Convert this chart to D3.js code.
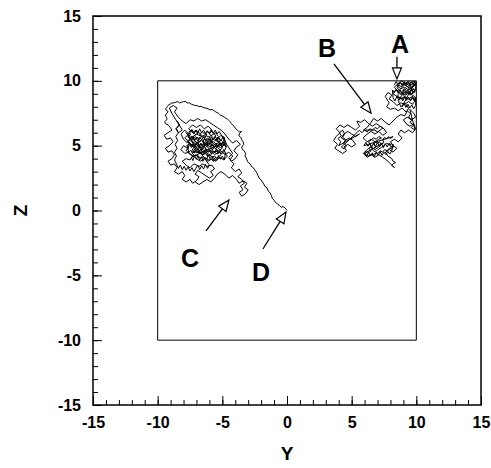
<!DOCTYPE html>
<html>
<head>
<meta charset="utf-8">
<script src="https://cdn.jsdelivr.net/npm/d3@7"></script>
<style>
  body { margin: 0; background: #fff; }
  text { font-family: "Liberation Sans", Arial, sans-serif; font-weight: bold; }
</style>
</head>
<body>
<svg width="491" height="468"></svg>
<script>
// axis setup
var majorTicks = [-15, -10, -5, 0, 5, 10, 15];
var minorTicks = d3.range(-15, 16, 1);
var boxCorners = [[-10, -10], [10, -10], [10, 10], [-10, 10]];

// trajectory, [Y, Z]
// walk from D (origin) up into the left cloud
var leftTail = [
  [0,0],[-0.15,0.2],[-0.3,0.3],[-0.45,0.25],[-0.6,0.4],[-0.75,0.5],[-0.9,0.65],[-1.0,0.8],[-1.15,0.95],
  [-1.2,1.15],[-1.3,1.35],[-1.45,1.5],[-1.55,1.75],[-1.7,1.85],[-1.8,2.05],[-1.9,2.2],[-2.0,2.35],
  [-2.15,2.5],[-2.25,2.7],[-2.3,2.85],[-2.4,3.0],[-2.5,3.15],[-2.6,3.3],[-2.75,3.4],[-2.85,3.6],
  [-3.0,3.7],[-3.1,3.9],[-3.15,4.05],[-3.25,4.2],[-3.2,4.4],[-3.3,4.6],[-3.45,4.7],[-3.5,4.9],
  [-3.35,5.1],[-3.4,5.3],[-3.5,5.45],[-3.55,5.6],[-3.7,5.75],[-3.7,5.9],[-3.5,6.1],[-3.65,6.05],
  [-3.85,6.2],[-4.0,6.35],[-4.1,6.5],[-4.2,6.6],[-4.3,6.7],[-4.4,6.85],[-4.5,6.95],[-4.6,7.05],
  [-4.7,7.1],[-4.85,7.2],[-5.0,7.3],[-5.15,7.35],[-5.3,7.5],[-5.4,7.55],[-5.5,7.6],[-5.65,7.7],
  [-5.8,7.8],[-5.95,7.75],[-6.1,7.85],[-6.3,7.9],[-6.5,7.95],[-6.65,8.05],[-6.8,8.0],[-6.95,8.1],
  [-7.1,8.1],[-7.25,8.15],[-7.4,8.2],[-7.55,8.3],[-7.7,8.3],[-7.85,8.4],[-8.0,8.4],[-8.15,8.35],
  [-8.3,8.3],[-8.45,8.4],[-8.6,8.35],[-8.75,8.3],[-8.9,8.3],[-9.05,8.2],[-9.2,8.1],[-9.3,7.95],
  [-9.4,7.8],[-9.25,7.7],[-9.2,7.6],[-9.35,7.45],[-9.4,7.3],[-9.3,7.15],[-9.3,7.0],[-9.45,6.85],
  [-9.4,6.7],[-9.2,6.6],[-9.1,6.5],[-9.0,6.35],[-8.9,6.2]
];

var leftCloud = [
  [-9.2,6.0],[-9.5,5.8],[-9.3,5.5],[-9.0,5.6],[-8.8,5.3],[-9.1,5.0],
  [-9.4,4.8],[-9.2,4.5],[-8.9,4.6],[-8.7,4.3],[-8.9,4.0],[-9.2,3.8],[-9.0,3.5],[-8.7,3.6],[-8.5,3.3],
  [-8.7,3.0],[-8.4,2.8],[-8.1,3.0],[-7.9,2.7],[-8.1,2.4],[-7.8,2.2],[-7.5,2.4],[-7.3,2.1],[-7.0,2.3],
  [-6.8,2.6],[-7.1,2.8],[-6.9,3.1],[-6.6,2.9],[-6.3,2.7],[-6.0,2.5],[-5.7,2.7],[-5.9,3.0],[-5.6,3.2],
  [-5.8,3.5],[-6.2,3.4],[-6.5,3.6],[-6.8,3.4],[-7.2,3.6],[-7.5,3.3],[-7.8,3.5],[-8.1,3.8],[-7.8,4.0],
  [-7.5,3.9],[-7.3,4.2],[-7.6,4.5],[-7.9,4.4],[-8.2,4.7],[-8.0,5.0],[-7.7,4.8],[-7.5,5.1],[-7.2,5.0],
  [-7.0,4.6],[-6.8,4.75],[-6.9,4.95],[-6.7,5.1],[-6.55,4.95],[-6.4,5.15],[-6.55,5.35],[-6.35,5.5],
  [-6.2,5.35],[-6.05,5.55],[-5.9,5.4],[-6.0,5.2],[-5.8,5.05],[-5.95,4.85],[-5.75,4.7],[-5.6,4.85],
  [-5.45,4.7],[-5.6,4.5],[-5.4,4.35],[-5.25,4.5],[-5.1,4.35],[-5.25,4.15],[-5.45,4.05],[-5.6,4.2],
  [-5.8,4.1],[-5.95,4.3],[-6.15,4.2],[-6.3,4.4],[-6.5,4.3],[-6.65,4.5],[-6.85,4.4],[-7.0,4.55],
  [-7.2,4.45],[-7.35,4.65],[-7.2,4.85],[-7.4,5.0],[-7.25,5.2],[-7.45,5.35],[-7.3,5.55],[-7.1,5.45],
  [-6.95,5.65],[-6.75,5.5],[-6.6,5.7],[-6.75,5.9],[-6.55,6.05],[-6.35,5.9],[-6.2,6.1],[-6.0,5.95],
  [-5.85,6.1],[-5.65,5.95],[-5.5,5.75],[-5.65,5.55],[-5.45,5.4],[-5.3,5.6],[-5.15,5.45],[-5.3,5.25],
  [-5.1,5.1],[-4.95,5.3],[-4.8,5.15],[-4.95,4.95],[-5.15,4.85],[-5.3,4.95],[-5.45,5.1],[-5.6,5.25],
  [-5.8,5.35],[-6.0,5.65],[-6.2,5.75],[-6.45,5.65],[-6.6,5.45],[-6.8,5.3],[-7.0,5.15],[-7.15,5.0],
  [-7.0,4.8],[-6.8,4.6],[-6.6,4.7],[-6.4,4.85],[-6.2,4.7],[-6.1,4.5],[-5.9,4.6],[-6.05,4.8],
  [-6.25,5.0],[-6.1,5.2],[-6.3,5.3],[-6.5,5.2],[-6.35,5.0],[-6.55,4.8],[-6.75,4.95],[-6.9,5.2],
  [-7.1,5.3],[-7.25,5.7],[-7.05,5.85],[-6.85,6.0],[-7.0,6.15],[-7.2,6.05],[-7.4,6.2],[-7.6,6.05],
  [-7.45,5.85],[-7.65,5.7],[-7.5,5.5],[-7.7,5.35],[-7.55,5.15],[-7.75,5.0],[-7.6,4.8],[-7.8,4.65],
  [-7.65,4.45],[-7.45,4.3],[-7.25,4.2],[-7.05,4.3],[-6.85,4.15],[-6.65,4.05],[-6.45,4.15],[-6.25,4.0],
  [-6.05,3.9],[-5.85,3.95],[-5.7,3.8],[-5.5,3.9],
  [-7.4,5.4],[-7.1,5.7],[-6.8,5.5],[-6.9,5.1],[-6.6,4.8],[-6.9,4.5],[-6.5,4.3],[-6.2,4.6],[-6.4,5.0],
  [-6.1,5.3],[-6.4,5.6],[-6.7,5.9],[-7.0,6.2],[-7.3,6.0],[-7.6,6.3],[-7.3,6.6],[-7.0,6.4],[-6.7,6.6],
  [-6.4,6.3],[-6.1,6.5],[-5.8,6.2],[-6.0,5.9],[-5.7,5.6],[-5.9,5.2],[-5.6,4.9],[-5.9,4.6],[-5.6,4.3],
  [-5.3,4.5],[-5.5,4.8],[-5.2,5.1],[-5.4,5.5],[-5.1,5.8],[-4.8,5.6],[-5.0,5.2],[-4.7,4.9],[-4.9,4.5],
  [-4.6,4.2],[-4.9,3.9],[-5.2,4.1],[-5.5,3.8],[-5.8,4.0],[-6.1,3.8],[-6.4,4.0],[-6.7,3.8],[-7.0,4.0],
  [-7.3,4.4],[-7.0,4.7],[-7.3,5.0],[-7.6,5.3],[-7.9,5.6],[-7.6,5.9],[-7.9,6.2],[-8.2,5.9],[-8.0,5.5],
  [-7.7,5.2],[-7.4,5.6],[-7.0,5.9],[-6.6,5.7],[-6.2,5.9],[-6.5,5.3],[-6.1,5.0],[-5.8,5.3],[-6.0,5.7],
  [-5.5,6.0],[-5.3,5.7],[-5.6,5.4],[-5.2,5.3],[-5.0,4.8],[-5.3,4.6],[-5.7,4.5],[-6.0,4.2],[-6.3,4.4],
  [-6.6,4.6],[-6.8,4.9],[-6.5,5.1],[-6.2,5.2],[-6.0,4.9],[-5.7,5.0],[-5.4,5.2],[-5.1,5.0],[-4.8,5.3],
  // tight scribble through the dark core
  [-7.4,4.1],[-7.28,3.85],[-7.15,4.2],[-7.0,3.95],[-6.9,4.25],[-6.75,3.9],[-6.6,4.15],[-6.5,3.8],
  [-6.35,4.1],[-6.2,3.95],[-6.1,4.3],[-5.95,4.0],[-5.8,4.2],[-5.7,3.85],[-5.55,4.1],[-5.4,3.9],
  [-5.3,4.25],[-5.15,3.95],[-5.0,4.2],[-4.85,3.9],
  [-4.75,4.45],[-4.9,4.7],[-5.05,4.35],[-5.2,4.6],[-5.3,4.4],[-5.45,4.75],[-5.6,4.45],[-5.75,4.65],
  [-5.85,4.35],[-6.0,4.7],[-6.15,4.5],[-6.3,4.75],[-6.45,4.4],[-6.6,4.65],[-6.7,4.35],[-6.85,4.6],
  [-7.0,4.45],[-7.15,4.75],[-7.3,4.4],[-7.45,4.65],[-7.6,4.5],
  [-7.7,4.95],[-7.55,5.2],[-7.4,4.85],[-7.25,5.15],[-7.1,4.9],[-6.95,5.25],[-6.8,4.95],[-6.65,5.2],
  [-6.5,4.85],[-6.35,5.1],[-6.2,4.9],[-6.05,5.25],[-5.9,4.95],[-5.75,5.15],[-5.6,4.85],[-5.45,5.1],
  [-5.3,4.9],[-5.15,5.2],[-5.0,4.95],[-4.85,5.15],[-4.7,4.9],
  [-4.8,5.45],[-4.95,5.7],[-5.1,5.35],[-5.25,5.6],[-5.4,5.4],[-5.55,5.75],[-5.7,5.45],[-5.85,5.65],
  [-6.0,5.35],[-6.15,5.6],[-6.3,5.4],[-6.45,5.7],[-6.6,5.45],[-6.75,5.65],[-6.9,5.35],[-7.05,5.6],
  [-7.2,5.45],[-7.35,5.75],[-7.5,5.5],[-7.65,5.7],
  [-7.5,6.0],[-7.35,6.25],[-7.2,5.9],[-7.05,6.15],[-6.9,5.95],[-6.75,6.3],[-6.6,6.0],[-6.45,6.2],
  [-6.3,5.9],[-6.15,6.15],[-6.0,5.95],[-5.85,6.25],[-5.7,5.95],[-5.55,6.2],[-5.4,5.9],[-5.25,6.1],
  [-4.6,5.0],[-4.4,4.7],[-4.2,4.4],[-4.5,4.1],[-4.3,3.8],[-4.0,4.0],[-3.8,4.3],[-4.1,4.6],[-3.9,4.9],
  [-3.6,5.1],[-3.9,5.4],[-4.2,5.2],[-4.5,5.5],[-4.8,5.9],[-5.1,6.2],[-5.4,6.4],[-5.7,6.6],[-6.0,6.8],
  [-6.3,7.0],[-6.6,6.9],[-6.9,7.1],[-7.2,6.9],[-7.5,7.0],[-7.8,6.7],[-8.1,6.9],[-8.4,7.2],[-8.7,7.6],
  [-8.5,7.9],[-8.8,8.1],[-9.1,7.9],[-8.9,7.5],[-8.6,7.0],[-8.3,6.6],[-8.6,6.3],[-8.4,6.0],[-8.1,6.2],
  [-8.5,6.9],[-8.35,6.6],[-8.55,6.3],[-8.4,6.0],[-8.6,5.7],[-8.45,5.4],[-8.65,5.1],[-8.5,4.8],
  [-8.7,4.5],[-8.55,4.2],[-8.7,3.9],[-8.55,3.6],[-8.4,3.25],[-8.25,3.5],[-8.1,3.15],[-7.95,3.4],
  [-7.8,3.1],[-7.65,3.35],[-7.5,3.05],[-7.35,3.3],[-7.2,3.0],[-7.05,3.25],[-6.9,3.5],[-6.75,3.15],
  [-6.6,3.45],[-6.45,3.2],[-6.3,3.55],[-6.15,3.25],[-6.0,3.5],
  [-7.8,6.0],[-7.5,5.7],[-7.2,5.4],[-6.9,5.2],[-6.6,5.4],[-6.3,5.2],[-6.0,5.4],[-5.7,5.2],[-5.4,4.9],
  [-5.1,4.6],[-4.8,4.3],[-4.5,4.5],[-4.2,4.2],[-4.4,3.9],[-4.1,3.6],[-4.3,3.3],[-4.0,3.0],[-3.7,3.2],
  [-3.5,2.9],[-3.8,2.6],[-3.5,2.4],[-3.3,2.1],[-3.6,1.9],[-3.4,1.6],[-3.7,1.4],[-3.5,1.1],[-3.2,1.3],
  [-3.0,1.6],[-3.3,1.8],[-3.1,2.1],[-3.4,2.3],[-3.7,2.1],[-3.9,2.4],[-4.2,2.7],[-4.5,2.5],[-4.8,2.8],
  [-5.1,3.0],[-5.4,2.8],[-5.6,2.5],[-5.9,2.2],[-6.2,2.4],[-6.5,2.2],[-6.8,2.0],[-7.1,2.2]
];

// right cloud, touching the Y = 10 and Z = 10 walls
var rightCloud = [
  [8.3,9.7],[8.45,9.95],[8.6,9.6],[8.75,9.9],[8.9,9.65],[9.05,9.95],[9.2,9.6],[9.35,9.9],[9.5,9.65],
  [9.65,9.95],[9.8,9.6],[9.95,9.85],
  [9.95,9.3],[9.8,9.05],[9.65,9.35],[9.5,9.0],[9.35,9.3],[9.2,9.05],[9.05,9.35],[8.9,9.0],[8.75,9.3],
  [8.6,9.05],[8.45,9.35],[8.3,9.1],[8.15,9.3],
  [8.2,8.7],[8.35,8.45],[8.5,8.8],[8.65,8.5],[8.8,8.75],[8.95,8.45],[9.1,8.8],[9.25,8.5],[9.4,8.75],
  [9.55,8.45],[9.7,8.8],[9.85,8.5],[9.95,8.75],
  [9.95,8.1],[9.8,7.85],[9.65,8.15],[9.5,7.9],[9.35,8.2],[9.2,7.95],[9.05,8.25],[8.9,8.0],
  [9.9,9.95],[9.75,9.8],[9.85,9.6],[9.65,9.5],[9.5,9.7],[9.35,9.55],[9.45,9.35],[9.25,9.2],[9.1,9.4],
  [8.95,9.25],[9.05,9.05],[8.85,8.9],[8.7,9.05],[8.55,8.9],[8.7,8.7],[8.9,8.6],[9.05,8.75],[9.2,8.55],
  [9.4,8.7],[9.55,8.5],[9.7,8.65],[9.85,8.45],[9.95,8.65],[9.8,8.85],[9.6,8.95],[9.75,9.15],[9.9,9.3],
  [9.7,9.35],[9.55,9.2],[9.35,9.05],[9.2,8.9],[9.0,8.95],[8.85,9.15],[8.65,9.3],[8.5,9.5],[8.65,9.65],
  [8.85,9.55],[9.0,9.75],[9.2,9.85],[9.4,9.95],[9.6,9.85],[9.8,9.95],
  [9.95,9.9],[9.6,9.7],[9.3,9.9],[9.0,9.7],[8.7,9.9],[8.5,9.6],[8.8,9.4],[9.1,9.5],[9.4,9.3],[9.7,9.5],
  [9.9,9.2],[9.6,9.0],[9.3,9.1],[9.0,8.9],[8.7,9.1],[8.4,9.3],[8.2,9.0],[8.5,8.8],[8.8,8.6],[9.1,8.8],
  [9.4,8.6],[9.7,8.8],[9.95,8.5],[9.7,8.2],[9.4,8.4],[9.1,8.2],[8.8,8.3],[8.5,8.1],[8.2,8.4],[7.9,8.6],
  [8.1,8.9],[7.8,9.1],[7.6,8.8],[7.9,8.3],[7.7,8.0],[8.0,7.8],[8.3,7.9],[8.6,7.7],[8.9,7.9],[9.2,7.6],
  [9.3,7.7],[9.55,7.45],[9.4,7.2],[9.7,7.0],[9.5,6.8],[9.8,6.6],[9.6,6.4],[9.9,6.2],
  [9.5,7.8],[9.8,7.5],[9.95,7.2],[9.6,7.0],[9.3,7.2],[9.0,7.0],[9.2,6.7],[9.5,6.5],[9.8,6.7],[9.95,6.3],
  [9.7,6.0],[9.4,6.2],[9.1,6.0],[8.8,6.2],[8.6,5.9],[8.9,5.6],[8.6,5.3],[8.3,5.5],[8.0,5.3],[8.2,5.0],
  [8.5,4.8],[8.2,4.5],[7.9,4.7],[7.6,4.5],[7.8,4.2],[8.1,4.0],[8.2,3.8],[8.4,3.7],[8.2,3.6],[8.1,3.5],
  [8.3,3.3],[8.15,3.45],[8.0,3.6],[7.85,3.75],[7.7,3.9],[7.4,4.1],[7.1,4.3],[6.8,4.1],[6.5,4.3],
  [6.2,4.1],[5.9,4.4],[6.2,4.7],[6.5,4.9],[6.8,4.7],[7.1,4.9],[7.4,5.2],
  [6.0,4.4],[6.15,4.15],[6.3,4.5],[6.45,4.2],[6.6,4.45],[6.75,4.15],[6.9,4.5],[7.05,4.25],[7.2,4.55],
  [7.35,4.25],[7.5,4.5],[7.65,4.3],[7.8,4.55],[7.95,4.35],[8.1,4.6],
  [8.2,5.1],[8.05,4.85],[7.9,5.2],[7.75,4.9],[7.6,5.15],[7.45,4.85],[7.3,5.2],[7.15,4.9],[7.0,5.25],
  [6.85,4.95],[6.7,5.2],[6.55,4.9],[6.4,5.15],[6.25,4.95],[6.1,5.25],[5.95,5.0],
  [8.2,5.7],[8.0,5.55],[7.85,5.7],[7.7,5.5],[7.55,5.65],[7.4,5.45],[7.5,5.25],[7.3,5.1],[7.15,5.3],
  [7.0,5.15],[6.85,5.3],[6.7,5.1],[6.85,4.9],[6.65,4.75],[6.5,4.95],[6.35,4.8],[6.5,4.6],[6.3,4.45],
  [6.15,4.6],[6.0,4.45],[6.15,4.25],[6.35,4.2],[6.5,4.35],[6.7,4.3],[6.85,4.45],[7.05,4.4],[7.2,4.6],
  [7.4,4.5],[7.55,4.7],[7.75,4.6],[7.9,4.8],[8.1,4.75],[8.25,4.95],[8.1,5.15],[7.9,5.05],[7.7,5.2],
  [7.5,5.0],[7.3,4.85],[7.1,4.75],[6.95,4.6],[6.75,4.55],[6.6,4.7],[6.45,5.1],[6.3,5.3],[6.5,5.45],
  [6.7,5.6],[6.9,5.5],[7.1,5.7],[7.3,5.6],
  [7.1,5.5],[6.8,5.3],[6.5,5.5],[6.2,5.3],[5.9,5.6],[6.2,5.9],[6.5,6.1],[6.8,5.9],
  [7.1,6.1],[7.4,5.8],[7.7,6.0],[7.5,6.3],[7.2,6.5],[6.9,6.7],[6.6,6.5],[6.3,6.7],[6.0,7.0],[5.7,6.8],
  [5.4,6.9],[5.6,6.5],[5.3,6.2],[5.0,6.4],[4.7,6.6],[4.4,6.4],[4.1,6.6],[3.8,6.3],[4.1,6.0],[3.8,5.7],
  [3.6,5.4],[3.9,5.1],[3.7,4.8],[4.0,4.6],[4.3,4.4],[4.6,4.6],[4.4,4.9],[4.7,5.1],[5.0,4.9],[5.3,5.1],
  [5.1,5.4],[4.8,5.6],[4.5,5.4],[4.2,5.6],[4.4,5.9],[4.7,6.1],[5.0,5.9],[5.3,5.7],[5.6,5.9],
  [4.0,5.0],[4.15,5.3],[3.95,5.55],[4.2,5.75],[4.05,6.0],[4.3,6.2],[4.45,5.9],[4.3,5.65],[4.55,5.45],
  [4.35,5.2],[4.6,5.0],[4.4,4.75],[4.2,4.9],
  [5.4,6.0],[5.6,6.2],[5.8,6.0],[6.0,6.2],[6.2,6.05],[6.4,6.3],[6.6,6.2],[6.8,6.4],[7.0,6.3],[7.2,6.5],
  [7.4,6.35],[7.0,6.05],[6.8,6.2],[5.9,6.2],
  [6.2,6.4],[6.5,6.8],[6.7,7.1],[7.0,6.9],[7.3,7.1],[7.6,6.8],[7.9,6.6],[8.2,6.9],[8.5,7.2],[8.8,7.4],
  [9.1,7.3],[9.4,7.9],[9.1,8.3],[8.8,8.0],[8.6,8.5],[8.9,8.9],[9.2,9.2],[9.5,8.9],[9.8,9.1],[9.5,9.6],
  [9.2,9.8],[8.9,9.5],[8.6,9.2],[8.3,9.5],[8.6,9.8],[8.9,10.0],[9.2,9.6],[9.6,9.4],[9.9,9.7]
];

// labels with arrows: text position, arrow tail, arrow tip
var labelNames = ["A", "B", "C", "D"];
var labelAt = [[8.74, 12.85], [3.1, 12.5], [-7.5, -3.66], [-2.0, -4.74]];
var arrowFrom = [[8.5, 11.85], [3.63, 11.3], [-6.26, -1.58], [-1.86, -2.97]];
var arrowTo = [[8.5, 10.15], [6.5, 7.5], [-4.49, 0.81], [-0.08, -0.12]];

var svg = d3.select("svg"),
    margin = {left: 93, top: 16, right: 10, bottom: 63},
    width = +svg.attr("width") - margin.left - margin.right,
    height = +svg.attr("height") - margin.top - margin.bottom;

var x = d3.scaleLinear().domain([-15, 15]).range([0, width]);
var y = d3.scaleLinear().domain([-15, 15]).range([height, 0]);

var g = svg.append("g").attr("transform", "translate(" + margin.left + "," + margin.top + ")");

// minor ticks
g.append("g")
    .attr("transform", "translate(0," + height + ")")
    .call(d3.axisBottom(x).tickValues(minorTicks).tickSize(-5).tickFormat(""))
    .call(function (a) { a.select(".domain").remove(); });
g.append("g")
    .call(d3.axisLeft(y).tickValues(minorTicks).tickSize(-5).tickFormat(""))
    .call(function (a) { a.select(".domain").remove(); });

// major ticks + labels (plain hyphen for the minus)
var fmt = function (d) { return String(d); };
var xAxis = g.append("g")
    .attr("transform", "translate(0," + height + ")")
    .call(d3.axisBottom(x).tickValues(majorTicks).tickSize(-9).tickPadding(12).tickFormat(fmt));
var yAxis = g.append("g")
    .call(d3.axisLeft(y).tickValues(majorTicks).tickSize(-9).tickPadding(12).tickFormat(fmt));
[xAxis, yAxis].forEach(function (a) {
  a.attr("font-family", null).attr("font-size", null);
  a.select(".domain").remove();
  a.selectAll("text")
      .attr("font-size", 16)
      .attr("font-weight", "bold")
      .attr("fill", "#000");
});
g.selectAll(".tick line").attr("stroke", "#000").attr("stroke-width", 1);

// frame
g.append("rect")
    .attr("width", width).attr("height", height)
    .attr("fill", "none").attr("stroke", "#000").attr("stroke-width", 1.5);

// the -10..10 box
g.append("polygon")
    .attr("points", boxCorners.map(function (d) { return x(d[0]) + "," + y(d[1]); }).join(" "))
    .attr("fill", "none").attr("stroke", "#000").attr("stroke-width", 1);

// trajectory
var line = d3.line().x(function (d) { return x(d[0]); }).y(function (d) { return y(d[1]); });
[leftTail.concat(leftCloud), rightCloud].forEach(function (p) {
  g.append("path")
      .attr("d", line(p))
      .attr("fill", "none")
      .attr("stroke", "#000")
      .attr("stroke-width", 1)
      .attr("stroke-linejoin", "round");
});

// arrows with hollow heads
labelNames.forEach(function (name, i) {
  var x0 = x(arrowFrom[i][0]), y0 = y(arrowFrom[i][1]),
      x1 = x(arrowTo[i][0]), y1 = y(arrowTo[i][1]);
  var dx = x1 - x0, dy = y1 - y0, len = Math.sqrt(dx * dx + dy * dy),
      ux = dx / len, uy = dy / len,
      headLen = Math.min(11, len * 0.6), headW = 4.5;
  var bx = x1 - ux * headLen, by = y1 - uy * headLen;
  g.append("line")
      .attr("x1", x0).attr("y1", y0).attr("x2", bx).attr("y2", by)
      .attr("stroke", "#000").attr("stroke-width", 1.3);
  g.append("polygon")
      .attr("points", [[x1, y1], [bx - uy * headW, by + ux * headW], [bx + uy * headW, by - ux * headW]]
        .map(function (p) { return p.join(","); }).join(" "))
      .attr("fill", "#fff").attr("stroke", "#000").attr("stroke-width", 1.2);
  g.append("text")
      .attr("x", x(labelAt[i][0])).attr("y", y(labelAt[i][1]))
      .attr("dy", "0.36em")
      .attr("text-anchor", "middle")
      .attr("font-size", 25)
      .text(name);
});

// axis titles
svg.append("text")
    .attr("x", margin.left + width / 2).attr("y", 460)
    .attr("text-anchor", "middle")
    .attr("font-size", 19)
    .text("Y");
svg.append("text")
    .attr("transform", "translate(27," + (margin.top + height / 2) + ") rotate(-90)")
    .attr("text-anchor", "middle")
    .attr("font-size", 19)
    .text("Z");
</script>
</body>
</html>
